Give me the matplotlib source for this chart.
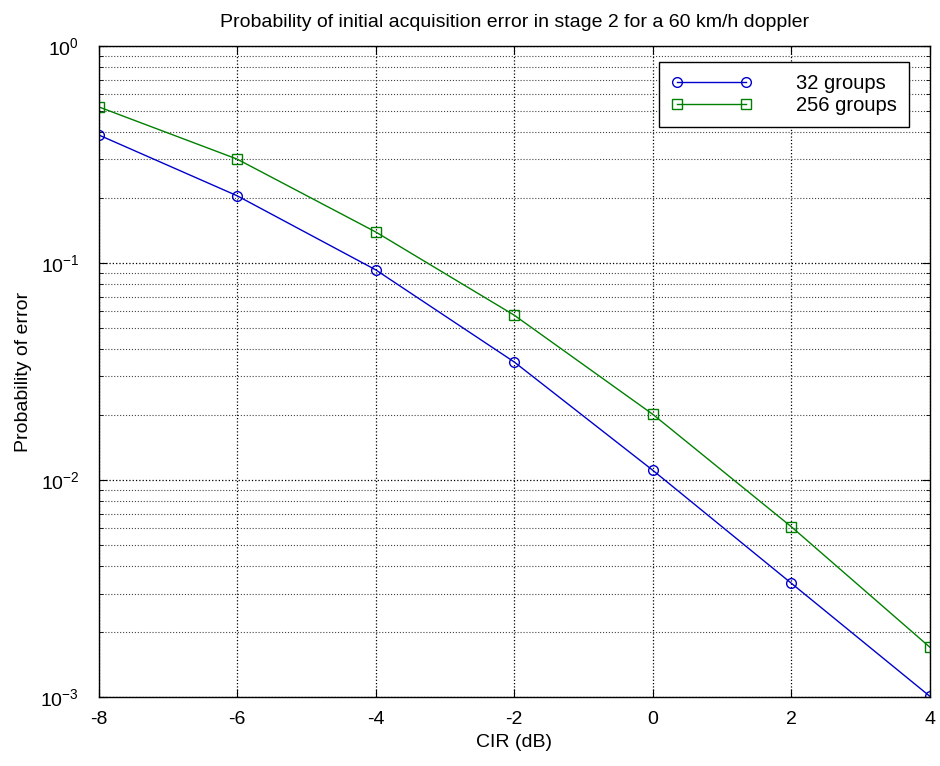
import matplotlib
matplotlib.use('Agg')
import matplotlib.pyplot as plt
from matplotlib.ticker import LogLocator, NullFormatter

plt.rcParams['font.family'] = ['Liberation Sans', 'DejaVu Sans']
plt.rcParams['axes.unicode_minus'] = False

# values
cir_db = [-8, -6, -4, -2, 0, 2, 4]
err_32 = [0.389, 0.204, 0.093, 0.035, 0.0111, 0.00335, 0.00101]
err_256 = [0.524, 0.301, 0.139, 0.0575, 0.0201, 0.0061, 0.0017]
series_labels = ['32 groups', '256 groups']
x_ticks = [-8, -6, -4, -2, 0, 2, 4]

fig = plt.figure(figsize=(9.4, 7.66), dpi=100)
ax = fig.add_axes([0.105, 0.090, 0.884, 0.850])

ax.semilogy(cir_db, err_32, color='#0000cc', marker='o', markersize=7,
            markerfacecolor='none', markeredgewidth=1.0, linewidth=1.0,
            label=series_labels[0])
ax.semilogy(cir_db, err_256, color='#008000', marker='s', markersize=7,
            markerfacecolor='none', markeredgewidth=1.0, linewidth=1.0,
            label=series_labels[1])

ax.set_xlim(-8, 4)
ax.set_ylim(1e-3, 1)
ax.set_xticks(x_ticks)
ax.yaxis.set_major_locator(LogLocator(base=10))
ax.yaxis.set_minor_locator(LogLocator(base=10, subs=range(2, 10)))
ax.yaxis.set_minor_formatter(NullFormatter())

ax.grid(True, which='major', linestyle=':', color='black', linewidth=0.9)
ax.grid(True, which='minor', axis='y', linestyle=':', color='#444444', linewidth=0.8)

ax.tick_params(which='both', direction='in', top=True, right=True, labelsize=14)
ax.tick_params(which='major', length=6)
ax.tick_params(which='minor', length=3)
ax.tick_params(axis='x', pad=10)
ax.tick_params(axis='y', pad=14)
for s in ax.spines.values():
    s.set_linewidth(1.0)

ax.set_title('Probability of initial acquisition error in stage 2 for a 60 km/h doppler',
             fontsize=14, pad=14)
ax.set_xlabel('CIR (dB)', fontsize=14, labelpad=4)
ax.set_ylabel('Probability of error', fontsize=14, labelpad=6)

leg = ax.legend(loc='upper right', bbox_to_anchor=(0.975, 0.975), borderaxespad=0,
                fontsize=14.5, numpoints=2, frameon=True, fancybox=False,
                edgecolor='black', framealpha=1, handlelength=4.0,
                handletextpad=2.2, borderpad=0.6, labelspacing=0.15)
leg.get_frame().set_linewidth(1.0)

fig.savefig('out.png', dpi=100, facecolor='white')
